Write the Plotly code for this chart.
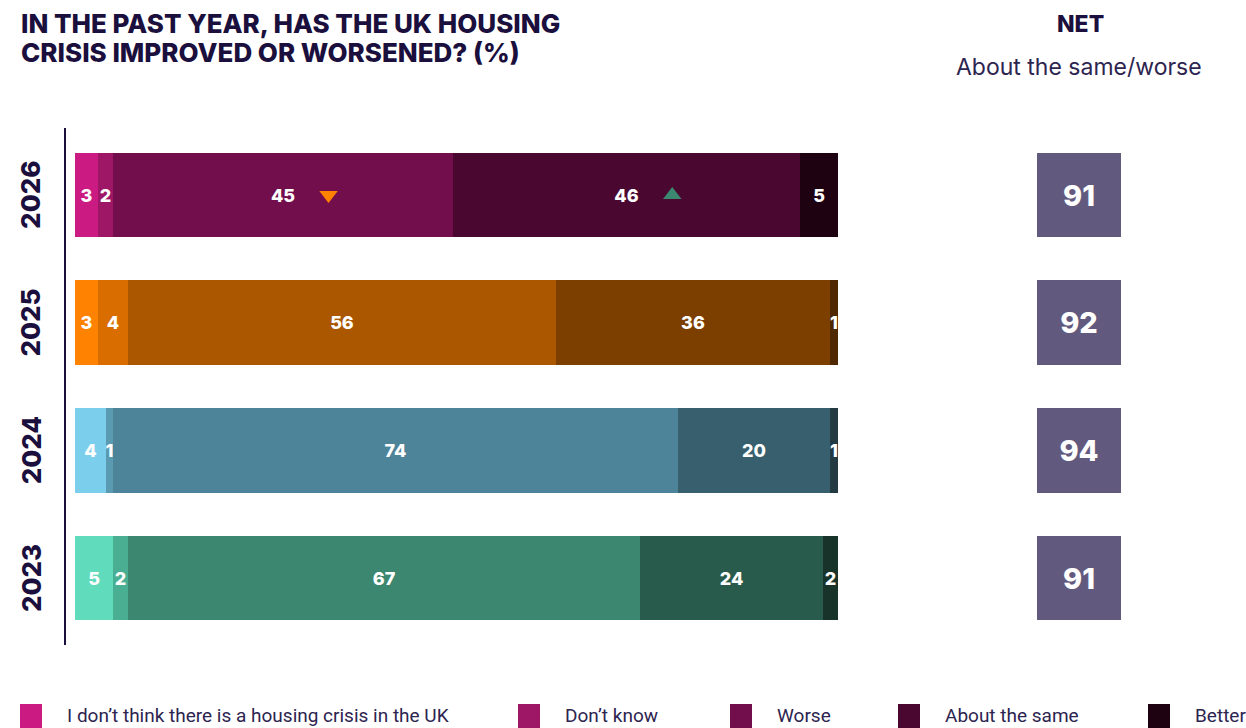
import plotly.graph_objects as go

# Survey data, years bottom to top
years = ["2023", "2024", "2025", "2026"]
categories = ["I don’t think there is a housing crisis in the UK", "Don’t know",
              "Worse", "About the same", "Better"]
no_crisis = [5, 4, 3, 3]
dont_know = [2, 1, 4, 2]
worse = [67, 74, 56, 45]
about_same = [24, 20, 36, 46]
better = [2, 1, 1, 5]
net_same_worse = [91, 94, 92, 91]

title_lines = ["IN THE PAST YEAR, HAS THE UK HOUSING", "CRISIS IMPROVED OR WORSENED? (%)"]

# significant changes vs previous year (year, category, direction)
changes = [("2026", "Worse", "down"), ("2026", "About the same", "up")]

series = [no_crisis, dont_know, worse, about_same, better]

# one palette per year, light to dark
palette = {
    "2023": ["#60dbbb", "#4aae93", "#3c8770", "#285b4c", "#183329"],
    "2024": ["#7ccfec", "#5a9bb2", "#4d8499", "#385f6e", "#233a43"],
    "2025": ["#ff8200", "#d96d00", "#ab5700", "#7c3f00", "#4f2800"],
    "2026": ["#cb1b82", "#9e1767", "#720e4b", "#4a0830", "#1e0212"],
}
legend_colors = palette["2026"]

W, H = 1246, 728
NAVY = "#1a0f3d"
TEXT = "#2d2450"
FONT = "Inter"


def px(x):
    return x / W


def py(y):
    return 1 - y / H


fig = go.Figure()

for i, (name, vals) in enumerate(zip(categories, series)):
    fig.add_trace(go.Bar(
        name=name,
        y=years,
        x=vals,
        orientation="h",
        width=0.66,
        marker=dict(color=[palette[yr][i] for yr in years], line_width=0),
        text=[str(v) for v in vals],
        textposition="inside",
        insidetextanchor="middle",
        textangle=0,
        constraintext="none",
        textfont=dict(color="white", size=18, family=FONT, weight=800),
        showlegend=False,
        hoverinfo="skip",
    ))

# change markers, placed just right of the segment label (bars are normalised to 100)
for yr, cat, direction in changes:
    yi = years.index(yr)
    ci = categories.index(cat)
    total = sum(s[yi] for s in series)
    start = sum(s[yi] for s in series[:ci])
    centre = (start + series[ci][yi] / 2) * 100 / total
    fig.add_trace(go.Scatter(
        x=[centre + 6], y=[yr], mode="markers",
        marker=dict(symbol="triangle-" + direction, size=16,
                    color="#ff8200" if direction == "down" else "#3c8770"),
        showlegend=False, hoverinfo="skip",
    ))

# NET boxes (full-width bars on their own axis)
fig.add_trace(go.Bar(
    y=years, x=[1] * len(years), orientation="h", width=0.66,
    xaxis="x2", yaxis="y",
    marker=dict(color="#625a7e", line_width=0),
    text=[str(v) for v in net_same_worse],
    textposition="inside", insidetextanchor="middle", textangle=0,
    constraintext="none",
    textfont=dict(color="white", size=29, family=FONT, weight=800),
    showlegend=False, hoverinfo="skip",
))

annotations = [
    dict(text="NET", x=px(1080), y=py(24), xanchor="center", yanchor="middle",
         font=dict(size=23, color=NAVY, family=FONT, weight=800)),
    dict(text="About the same/worse", x=px(1079), y=py(67), xanchor="center",
         yanchor="middle", font=dict(size=23, color=TEXT, family=FONT, weight=400)),
]
for line, ty in zip(title_lines, [23, 53]):
    annotations.append(dict(text=line, x=px(19), y=py(ty), xanchor="left",
                            yanchor="middle",
                            font=dict(size=26, color=NAVY, family=FONT, weight=800)))

# year labels
for yi, yr in enumerate(years):
    annotations.append(dict(
        text=yr, x=px(31), xref="paper", y=yi, yref="y", textangle=-90,
        xanchor="center", yanchor="middle", showarrow=False,
        font=dict(size=26, color=NAVY, family=FONT, weight=800)))

shapes = [dict(type="line", xref="paper", yref="paper",
               x0=px(65), x1=px(65), y0=py(128), y1=py(645),
               line=dict(color=NAVY, width=2))]

# legend drawn by hand for the large swatches
legend_x = [20, 518, 730, 898, 1148]
for lx, name, col in zip(legend_x, categories, legend_colors):
    shapes.append(dict(type="rect", xref="paper", yref="paper",
                       x0=px(lx), x1=px(lx + 22), y0=py(704), y1=py(730),
                       fillcolor=col, line_width=0))
    annotations.append(dict(text=name, x=px(lx + 45), y=py(715),
                            xanchor="left", yanchor="middle",
                            font=dict(size=19, color=TEXT, family="Roboto")))

for a in annotations:
    a.setdefault("xref", "paper")
    a.setdefault("yref", "paper")
    a.setdefault("showarrow", False)

fig.update_layout(
    width=W, height=H,
    margin=dict(l=0, r=0, t=0, b=0),
    paper_bgcolor="white", plot_bgcolor="white",
    barmode="stack",
    barnorm="percent",
    bargap=0,
    xaxis=dict(range=[0, 100], domain=[px(75), px(838)], visible=False),
    xaxis2=dict(range=[0, 100], domain=[px(1037), px(1121)], visible=False),
    yaxis=dict(type="category", categoryorder="array", categoryarray=years,
               range=[-0.5, 3.5], domain=[py(642), py(131)], visible=False),
    annotations=annotations,
    shapes=shapes,
)

# drop the default page margin so the figure sits at the window's corner
fig.write_html("out.html", config={"displayModeBar": False},
               post_script="document.body.style.margin='0';")
